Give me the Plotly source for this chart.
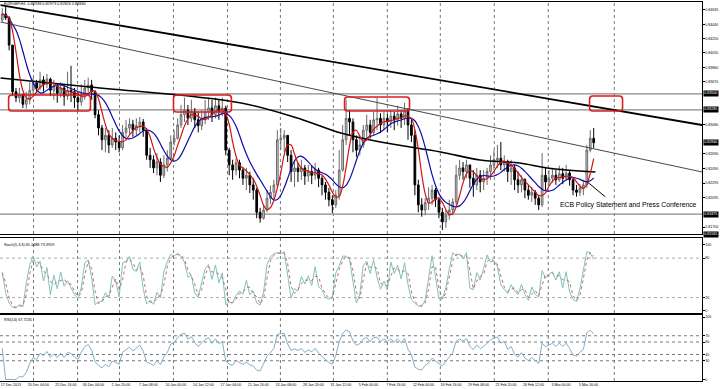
import numpy as np
import pandas as pd
import plotly.graph_objects as go

# ---------------- data ----------------
title_text = "EURGBP,H4  0.82938 0.82973 0.82826 0.82840"
stoch_text = "Stoch(5,3,3) 65.1688 73.3959"
rsi_text = "RSI(14) 67.7235"
ecb_text = "ECB Policy Statement and Press Conference"

first_open = 0.8450
closes = [
    0.8458, 0.8453, 0.8416, 0.8353, 0.8345, 0.8349, 0.8336, 0.8342, 0.8355, 0.8365,
    0.8358, 0.8369, 0.8363, 0.8370, 0.8355, 0.8361, 0.8351, 0.8358, 0.8347, 0.8355,
    0.8353, 0.8345, 0.8339, 0.8349, 0.8358, 0.8362, 0.8353, 0.8322, 0.8304, 0.8288,
    0.8294, 0.8281, 0.8290, 0.8285, 0.8277, 0.8298, 0.8304, 0.8309, 0.8301, 0.8307,
    0.8312, 0.8301, 0.8267, 0.8261, 0.8250, 0.8258, 0.8240, 0.8254, 0.8263, 0.8285,
    0.8290, 0.8308, 0.8322, 0.8328, 0.8317, 0.8326, 0.8315, 0.8307, 0.8317, 0.8326,
    0.8331, 0.8322, 0.8334, 0.8326, 0.8331, 0.8274, 0.8254, 0.8247, 0.8257, 0.8247,
    0.8236, 0.8240, 0.8227, 0.8220, 0.8190, 0.8182, 0.8193, 0.8209, 0.8217, 0.8227,
    0.8288, 0.8290, 0.8294, 0.8267, 0.8245, 0.8250, 0.8245, 0.8250, 0.8239, 0.8245,
    0.8240, 0.8247, 0.8236, 0.8227, 0.8217, 0.8207, 0.8200, 0.8213, 0.8247, 0.8288,
    0.8317, 0.8312, 0.8288, 0.8274, 0.8281, 0.8301, 0.8308, 0.8298, 0.8315, 0.8317,
    0.8308, 0.8317, 0.8312, 0.8320, 0.8315, 0.8323, 0.8317, 0.8328, 0.8308, 0.8294,
    0.8227, 0.8200, 0.8193, 0.8203, 0.8209, 0.8220, 0.8207, 0.8190, 0.8177, 0.8186,
    0.8193, 0.8204, 0.8240, 0.8250, 0.8245, 0.8254, 0.8236, 0.8227, 0.8240, 0.8231,
    0.8236, 0.8245, 0.8254, 0.8261, 0.8263, 0.8254, 0.8258, 0.8245, 0.8250, 0.8234,
    0.8227, 0.8234, 0.8220, 0.8213, 0.8217, 0.8209, 0.8200, 0.8240, 0.8231, 0.8236,
    0.8240, 0.8234, 0.8242, 0.8236, 0.8243, 0.8234, 0.8220, 0.8217, 0.8223, 0.8227,
    0.8274, 0.8290, 0.8284,
]
highs = [
    0.8466, 0.8469, 0.8455, 0.8416, 0.8358, 0.8358, 0.8350, 0.8353, 0.8366, 0.8372,
    0.8369, 0.8380, 0.8374, 0.8377, 0.8372, 0.8369, 0.8363, 0.8366, 0.8363, 0.8380,
    0.8388, 0.8358, 0.8353, 0.8363, 0.8369, 0.8372, 0.8369, 0.8355, 0.8328, 0.8308,
    0.8304, 0.8301, 0.8304, 0.8298, 0.8294, 0.8308, 0.8315, 0.8317, 0.8315, 0.8317,
    0.8319, 0.8316, 0.8304, 0.8277, 0.8267, 0.8270, 0.8263, 0.8267, 0.8274, 0.8294,
    0.8301, 0.8317, 0.8335, 0.8345, 0.8335, 0.8342, 0.8331, 0.8326, 0.8328, 0.8342,
    0.8345, 0.8342, 0.8345, 0.8342, 0.8345, 0.8334, 0.8277, 0.8261, 0.8263, 0.8261,
    0.8251, 0.8250, 0.8245, 0.8236, 0.8223, 0.8196, 0.8200, 0.8220, 0.8226, 0.8234,
    0.8301, 0.8304, 0.8301, 0.8294, 0.8274, 0.8261, 0.8257, 0.8261, 0.8254, 0.8254,
    0.8253, 0.8257, 0.8250, 0.8240, 0.8231, 0.8223, 0.8213, 0.8220, 0.8274, 0.8308,
    0.8342, 0.8328, 0.8317, 0.8294, 0.8294, 0.8308, 0.8322, 0.8315, 0.8326, 0.8345,
    0.8324, 0.8326, 0.8323, 0.8328, 0.8326, 0.8334, 0.8328, 0.8338, 0.8331, 0.8317,
    0.8301, 0.8234, 0.8209, 0.8209, 0.8224, 0.8227, 0.8223, 0.8209, 0.8196, 0.8193,
    0.8207, 0.8209, 0.8254, 0.8261, 0.8258, 0.8261, 0.8254, 0.8247, 0.8250, 0.8247,
    0.8247, 0.8250, 0.8267, 0.8274, 0.8281, 0.8285, 0.8267, 0.8261, 0.8261, 0.8254,
    0.8245, 0.8240, 0.8236, 0.8227, 0.8224, 0.8220, 0.8213, 0.8270, 0.8250, 0.8247,
    0.8250, 0.8247, 0.8253, 0.8250, 0.8254, 0.8247, 0.8236, 0.8227, 0.8228, 0.8234,
    0.8281, 0.8301, 0.8304,
]
lows = [
    0.8447, 0.8450, 0.8409, 0.8347, 0.8339, 0.8338, 0.8331, 0.8330, 0.8336, 0.8349,
    0.8351, 0.8355, 0.8353, 0.8358, 0.8347, 0.8342, 0.8338, 0.8345, 0.8334, 0.8342,
    0.8339, 0.8331, 0.8328, 0.8334, 0.8342, 0.8347, 0.8342, 0.8317, 0.8294, 0.8274,
    0.8271, 0.8270, 0.8277, 0.8274, 0.8271, 0.8274, 0.8292, 0.8296, 0.8292, 0.8294,
    0.8298, 0.8292, 0.8261, 0.8250, 0.8243, 0.8240, 0.8231, 0.8236, 0.8245, 0.8261,
    0.8280, 0.8288, 0.8304, 0.8312, 0.8308, 0.8312, 0.8304, 0.8298, 0.8301, 0.8309,
    0.8315, 0.8312, 0.8317, 0.8315, 0.8320, 0.8267, 0.8240, 0.8234, 0.8240, 0.8236,
    0.8227, 0.8220, 0.8216, 0.8207, 0.8182, 0.8176, 0.8180, 0.8190, 0.8201, 0.8207,
    0.8223, 0.8274, 0.8271, 0.8258, 0.8231, 0.8224, 0.8231, 0.8234, 0.8227, 0.8231,
    0.8228, 0.8234, 0.8224, 0.8213, 0.8207, 0.8198, 0.8189, 0.8196, 0.8207, 0.8245,
    0.8281, 0.8294, 0.8271, 0.8265, 0.8267, 0.8277, 0.8288, 0.8290, 0.8294, 0.8301,
    0.8297, 0.8301, 0.8298, 0.8304, 0.8301, 0.8307, 0.8304, 0.8308, 0.8288, 0.8285,
    0.8213, 0.8190, 0.8184, 0.8186, 0.8193, 0.8200, 0.8197, 0.8182, 0.8166, 0.8169,
    0.8180, 0.8186, 0.8200, 0.8234, 0.8234, 0.8236, 0.8223, 0.8211, 0.8220, 0.8217,
    0.8220, 0.8227, 0.8234, 0.8247, 0.8250, 0.8247, 0.8245, 0.8231, 0.8227, 0.8220,
    0.8216, 0.8217, 0.8209, 0.8207, 0.8204, 0.8200, 0.8193, 0.8197, 0.8220, 0.8226,
    0.8230, 0.8227, 0.8231, 0.8228, 0.8234, 0.8226, 0.8213, 0.8211, 0.8212, 0.8213,
    0.8223, 0.8271, 0.8277,
]

# slow moving average
ma_slow_bars = [0, 52, 140, 176, 198, 221, 256, 279, 302, 318, 346]
ma_slow_vals = [0.83715, 0.83594, 0.83377, 0.83148, 0.82972, 0.82850,
                0.82715, 0.82607, 0.82566, 0.82499, 0.82445]

tick_bars = list(range(0, 337, 16))
tick_labels = ["17 Dec 2013", "20 Dec 04:00", "25 Dec 16:00", "30 Dec 04:00",
               "2 Jan 20:00", "7 Jan 08:00", "10 Jan 00:00", "14 Jan 12:00",
               "17 Jan 04:00", "21 Jan 16:00", "24 Jan 08:00", "28 Jan 20:00",
               "31 Jan 12:00", "5 Feb 00:00", "7 Feb 16:00", "12 Feb 04:00",
               "16 Feb 16:00", "19 Feb 08:00", "21 Feb 20:00", "26 Feb 12:00",
               "3 Mar 00:00", "5 Mar 16:00"]
price_ticks = [0.84635, 0.84440, 0.84250, 0.84055, 0.83860, 0.83670, 0.83080,
               0.82690, 0.82490, 0.82295, 0.82095, 0.81700]
stoch_ticks = [100, 80, 20, 0]
stoch_levels = [80, 20]
rsi_ticks = [100, 70, 60, 40, 30, 0]
rsi_levels = [70, 60, 40, 30]

level_prices = [0.83500, 0.83285, 0.81875]
current_price = 0.82840
bottom_label_price = 0.81565

trend_thick = [0.84702, 0.83080]   # price at left edge / right edge
trend_thin = [0.84473, 0.82445]
boxes = [  # x0, x1 (bars), top, bottom (price)
    (4.7, 52.3, 0.83486, 0.83269),
    (100.6, 134.3, 0.83486, 0.83256),
    (200.1, 237.9, 0.83459, 0.83269),
    (342.6, 361.8, 0.83472, 0.83269),
]
grid_bars = [19.2, 44.8, 69.2, 100.6, 132, 162.8, 193.6, 225, 255.8, 287.2, 318.6, 357]
ecb_line = [(341.3, 0.8231), (351.7, 0.8211)]
ecb_text_pos = (324, 0.8200)

X_MAX = 408
P_MIN, P_MAX = 0.81606, 0.84743

# ---------------- derived ----------------
n = len(closes)
x = np.arange(n) * 2 + 1
c = np.array(closes)
o = np.concatenate([[first_open], c[:-1]])
h = np.maximum.reduce([np.array(highs), o, c])
l = np.minimum.reduce([np.array(lows), o, c])
s = pd.Series(c)
red_ma = s.rolling(3, min_periods=1).mean().rolling(3, min_periods=1).mean()
blue_ma = s.rolling(6, min_periods=1).mean().rolling(5, min_periods=1).mean()

hh = pd.Series(h).rolling(4, min_periods=1).max()
ll = pd.Series(l).rolling(4, min_periods=1).min()
stoch_k = (100 * (s - ll) / (hh - ll)).fillna(50)
stoch_d = stoch_k.rolling(2, min_periods=1).mean()

delta = s.diff().fillna(0)
gain = delta.clip(lower=0)
loss = -delta.clip(upper=0)
ag = gain.ewm(alpha=1 / 7, adjust=False).mean()
al = loss.ewm(alpha=1 / 7, adjust=False).mean()
rsi = (100 - 100 / (1 + ag / al.replace(0, np.nan))).fillna(50)

FONT = "Liberation Sans, Arial, sans-serif"

fig = go.Figure()
fig.add_trace(go.Candlestick(
    x=x, open=o, high=h, low=l, close=c, xaxis="x", yaxis="y",
    increasing=dict(line=dict(color="#6a6a6a", width=1), fillcolor="#cccccc"),
    decreasing=dict(line=dict(color="#000000", width=1), fillcolor="#000000"),
    whiskerwidth=0, showlegend=False, hoverinfo="skip"))
fig.add_trace(go.Scatter(x=ma_slow_bars, y=ma_slow_vals, mode="lines", xaxis="x", yaxis="y",
                         line=dict(color="black", width=1.6, shape="spline"), showlegend=False))
fig.add_trace(go.Scatter(x=x, y=blue_ma, mode="lines", xaxis="x", yaxis="y",
                         line=dict(color="#0c0ca8", width=1.2, shape="spline"), showlegend=False))
fig.add_trace(go.Scatter(x=x, y=red_ma, mode="lines", xaxis="x", yaxis="y",
                         line=dict(color="#d01414", width=1.2, shape="spline"), showlegend=False))
fig.add_trace(go.Scatter(x=x, y=stoch_k, mode="lines", xaxis="x2", yaxis="y2",
                         line=dict(color="#7cc4bb", width=1), showlegend=False))
fig.add_trace(go.Scatter(x=x, y=stoch_d, mode="lines", xaxis="x2", yaxis="y2",
                         line=dict(color="#c46a6a", width=1, dash="dot"), showlegend=False))
fig.add_trace(go.Scatter(x=x, y=rsi, mode="lines", xaxis="x3", yaxis="y3",
                         line=dict(color="#7fb0c6", width=1), showlegend=False))

shapes = []
for gb in grid_bars:
    for yr, xr in [("y domain", "x"), ("y2 domain", "x2"), ("y3 domain", "x3")]:
        shapes.append(dict(type="line", xref=xr, yref=yr, x0=gb, x1=gb, y0=0, y1=1,
                           line=dict(color="#555555", width=0.8, dash="dot"), layer="below"))
for lv in stoch_levels:
    shapes.append(dict(type="line", xref="paper", yref="y2", x0=0, x1=1, y0=lv, y1=lv,
                       line=dict(color="#999999", width=0.8, dash="dot"), layer="below"))
for lv in rsi_levels:
    shapes.append(dict(type="line", xref="paper", yref="y3", x0=0, x1=1, y0=lv, y1=lv,
                       line=dict(color="#555555", width=0.8, dash="dot"), layer="below"))
for lp in level_prices:
    shapes.append(dict(type="line", xref="paper", yref="y", x0=0, x1=1, y0=lp, y1=lp,
                       line=dict(color="#8a8a8a", width=1.2), layer="below"))
shapes.append(dict(type="line", xref="x", yref="y", x0=0, x1=X_MAX,
                   y0=trend_thick[0], y1=trend_thick[1], line=dict(color="black", width=1.8)))
shapes.append(dict(type="line", xref="x", yref="y", x0=0, x1=X_MAX,
                   y0=trend_thin[0], y1=trend_thin[1], line=dict(color="#333333", width=0.9)))
shapes.append(dict(type="line", xref="x", yref="y", x0=ecb_line[0][0], y0=ecb_line[0][1],
                   x1=ecb_line[1][0], y1=ecb_line[1][1], line=dict(color="black", width=1)))


def rounded(x0, x1, y0, y1, rx=1.8, ry=0.00045):
    return (f"M {x0+rx},{y0} L {x1-rx},{y0} Q {x1},{y0} {x1},{y0-ry} "
            f"L {x1},{y1+ry} Q {x1},{y1} {x1-rx},{y1} L {x0+rx},{y1} "
            f"Q {x0},{y1} {x0},{y1+ry} L {x0},{y0-ry} Q {x0},{y0} {x0+rx},{y0} Z")


for bx0, bx1, top, bot in boxes:
    shapes.append(dict(type="path", xref="x", yref="y", path=rounded(bx0, bx1, top, bot),
                       line=dict(color="#dc1e1e", width=1.6)))

small = dict(family=FONT, size=3.8, color="black")
annotations = [
    dict(xref="paper", yref="paper", x=0.003, y=1 - 4.5 / 389, text=title_text, showarrow=False,
         xanchor="left", yanchor="middle", font=small),
    dict(xref="paper", yref="paper", x=0.003, y=1 - 245 / 389, text=stoch_text, showarrow=False,
         xanchor="left", yanchor="middle", font=small),
    dict(xref="paper", yref="paper", x=0.003, y=1 - 319.5 / 389, text=rsi_text, showarrow=False,
         xanchor="left", yanchor="middle", font=small),
    dict(xref="x", yref="y", x=ecb_text_pos[0], y=ecb_text_pos[1], text=ecb_text, showarrow=False,
         xanchor="left", yanchor="middle", font=dict(family=FONT, size=6.8, color="black")),
]
for lp in level_prices + [current_price, bottom_label_price]:
    annotations.append(dict(xref="paper", yref="y", x=1, y=max(lp, P_MIN), text=f"{lp:.5f}",
                            showarrow=False, xanchor="left", yanchor="middle", xshift=0.5,
                            bgcolor="black", borderpad=0.3,
                            font=dict(family=FONT, size=3.6, color="white")))

xcommon = dict(range=[-0.3, X_MAX], showgrid=False, zeroline=False, showline=True,
               linecolor="black", linewidth=1, mirror=True, ticks="", fixedrange=True)
ycommon = dict(side="right", showgrid=False, zeroline=False, showline=True, linecolor="black",
               linewidth=1, mirror=True, ticks="outside", ticklen=1.5, tickcolor="black",
               tickfont=dict(family=FONT, size=3.6, color="black"), automargin=False,
               fixedrange=True)

fig.update_layout(
    width=720, height=389,
    margin=dict(l=0, r=18, t=0, b=0),
    paper_bgcolor="white", plot_bgcolor="white",
    showlegend=False, hovermode=False, dragmode=False,
    xaxis=dict(**xcommon, anchor="y", showticklabels=False, rangeslider=dict(visible=False)),
    xaxis2=dict(**xcommon, anchor="y2", matches="x", showticklabels=False),
    xaxis3=dict(**xcommon, anchor="y3", matches="x", showticklabels=True,
                tickmode="array", tickvals=[b + 6 for b in tick_bars], ticktext=tick_labels,
                tickfont=dict(family=FONT, size=3.6, color="black"), automargin=False),
    yaxis=dict(**ycommon, domain=[1 - 234 / 389, 1 - 2 / 389], range=[P_MIN, P_MAX], anchor="x",
               tickmode="array", tickvals=price_ticks, ticktext=[f"{v:.5f}" for v in price_ticks]),
    yaxis2=dict(**ycommon, domain=[1 - 313 / 389, 1 - 238 / 389], range=[-3.5, 110.6], anchor="x2",
                tickmode="array", tickvals=stoch_ticks, ticktext=[str(v) for v in stoch_ticks]),
    yaxis3=dict(**ycommon, domain=[1 - 381 / 389, 1 - 315 / 389], range=[-2.4, 103.2], anchor="x3",
                tickmode="array", tickvals=rsi_ticks, ticktext=[str(v) for v in rsi_ticks]),
    shapes=shapes,
    annotations=annotations,
)

fig.write_html("out.html", config={"displayModeBar": False, "staticPlot": True},
               post_script="document.body.style.margin='0px';")
